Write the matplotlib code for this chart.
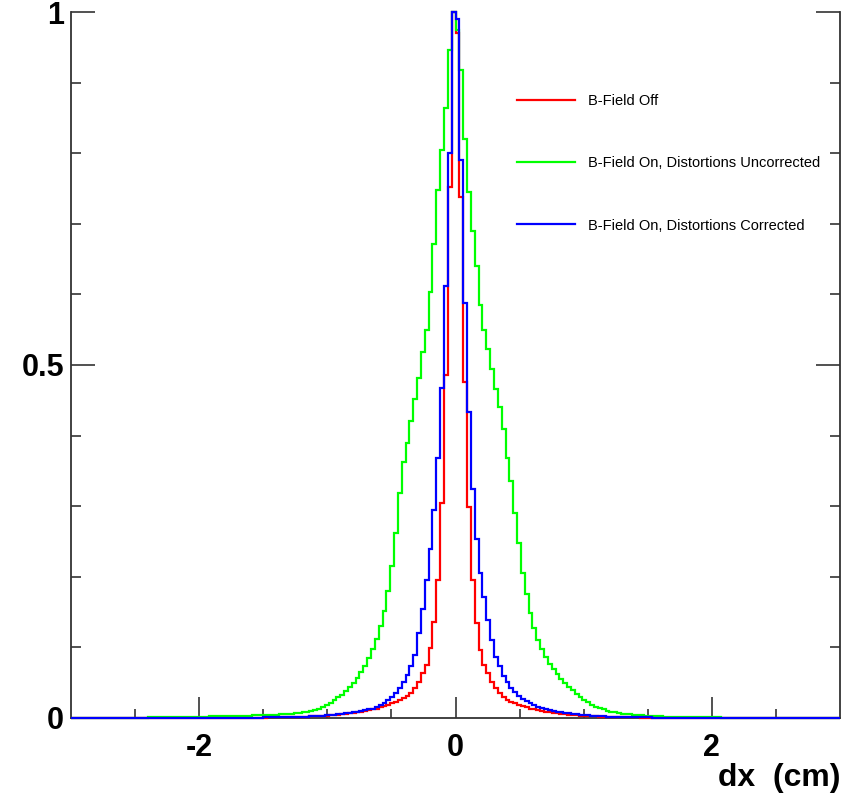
import numpy as np
import matplotlib.pyplot as plt

# bin contents, bin width 0.03 cm
# each half goes outward from dx = 0
green_right = [0.975, 0.918, 0.820, 0.745, 0.690, 0.640, 0.585, 0.550, 0.522, 0.495,
               0.466, 0.440, 0.410, 0.368, 0.335, 0.290, 0.248, 0.205, 0.175, 0.148,
               0.127, 0.110, 0.097, 0.086, 0.077, 0.069, 0.062, 0.055, 0.049, 0.044,
               0.039, 0.034, 0.030, 0.026, 0.022, 0.019, 0.016, 0.014, 0.012, 0.010,
               0.009, 0.008, 0.007, 0.006, 0.0055, 0.005, 0.0045, 0.004, 0.0036, 0.0032,
               0.0029, 0.0026, 0.0024, 0.0022, 0.002, 0.0018, 0.0016, 0.0015, 0.0014, 0.0013,
               0.0012, 0.0011, 0.001, 0.0009, 0.0009, 0.0008, 0.0008, 0.0007, 0.0007, 0.0006,
               0.0006, 0.0005, 0.0005, 0.0005, 0.0004, 0.0004, 0.0004, 0.0003, 0.0003, 0.0003,
               0.0003, 0.0002, 0.0002, 0.0002, 0.0002, 0.0002, 0.0002, 0.0001, 0.0001, 0.0001,
               0.0001, 0.0001, 0.0001, 0.0001, 0.0001, 0.0001, 0.0001, 0.0001, 0.0001, 0.0001]
green_left = [1.000, 0.946, 0.864, 0.805, 0.748, 0.672, 0.604, 0.550, 0.519, 0.482,
              0.452, 0.420, 0.389, 0.363, 0.318, 0.262, 0.215, 0.180, 0.152, 0.130,
              0.112, 0.097, 0.085, 0.074, 0.065, 0.057, 0.050, 0.044, 0.038, 0.033,
              0.029, 0.025, 0.021, 0.018, 0.015, 0.013, 0.011, 0.0095, 0.0085, 0.0078,
              0.0072, 0.0067, 0.0062, 0.0058, 0.0055, 0.0052, 0.0049, 0.0046, 0.0044, 0.0042,
              0.0040, 0.0038, 0.0036, 0.0034, 0.0032, 0.0030, 0.0029, 0.0028, 0.0026, 0.0025,
              0.0024, 0.0023, 0.0022, 0.0021, 0.0020, 0.0019, 0.0018, 0.0017, 0.0016, 0.0015,
              0.0014, 0.0013, 0.0012, 0.0011, 0.0010, 0.0009, 0.0009, 0.0008, 0.0007, 0.0007,
              0.0006, 0.0006, 0.0005, 0.0005, 0.0004, 0.0004, 0.0004, 0.0003, 0.0003, 0.0003,
              0.0002, 0.0002, 0.0002, 0.0002, 0.0002, 0.0001, 0.0001, 0.0001, 0.0001, 0.0001]

blue_right = [0.990, 0.790, 0.588, 0.434, 0.325, 0.254, 0.205, 0.172, 0.139, 0.110,
              0.087, 0.073, 0.060, 0.051, 0.043, 0.037, 0.031, 0.027, 0.024, 0.021,
              0.018, 0.016, 0.014, 0.013, 0.011, 0.010, 0.009, 0.008, 0.007, 0.0065,
              0.0060, 0.0052, 0.0046, 0.0040, 0.0036, 0.0032, 0.0028, 0.0025, 0.0022, 0.0020,
              0.0018, 0.0016, 0.0014, 0.0013, 0.0012, 0.0011, 0.0010, 0.0009, 0.0008, 0.0007,
              0.0007, 0.0006, 0.0006, 0.0005, 0.0005, 0.0004, 0.0004, 0.0004, 0.0003, 0.0003,
              0.0003, 0.0003, 0.0002, 0.0002, 0.0002, 0.0002, 0.0002, 0.0002, 0.0001, 0.0001,
              0.0001, 0.0001, 0.0001, 0.0001, 0.0001, 0.0001, 0.0001, 0.0001, 0.0001, 0.0001,
              0.0001, 0.0001, 0.0001, 0.0001, 0.0001, 0.0001, 0.0001, 0.0001, 0.0001, 0.0001,
              0.0001, 0.0001, 0.0001, 0.0001, 0.0001, 0.0001, 0.0001, 0.0001, 0.0001, 0.0001]
blue_left = [1.000, 0.800, 0.612, 0.467, 0.368, 0.294, 0.240, 0.195, 0.155, 0.120,
             0.089, 0.073, 0.061, 0.051, 0.042, 0.035, 0.029, 0.025, 0.021, 0.018,
             0.015, 0.013, 0.012, 0.011, 0.0098, 0.0088, 0.0080, 0.0072, 0.0064, 0.0056,
             0.0050, 0.0045, 0.0040, 0.0036, 0.0032, 0.0028, 0.0025, 0.0022, 0.0020, 0.0018,
             0.0016, 0.0014, 0.0013, 0.0012, 0.0011, 0.0010, 0.0009, 0.0008, 0.0007, 0.0007,
             0.0006, 0.0006, 0.0005, 0.0005, 0.0004, 0.0004, 0.0004, 0.0003, 0.0003, 0.0003,
             0.0003, 0.0002, 0.0002, 0.0002, 0.0002, 0.0002, 0.0002, 0.0001, 0.0001, 0.0001,
             0.0001, 0.0001, 0.0001, 0.0001, 0.0001, 0.0001, 0.0001, 0.0001, 0.0001, 0.0001,
             0.0001, 0.0001, 0.0001, 0.0001, 0.0001, 0.0001, 0.0001, 0.0001, 0.0001, 0.0001,
             0.0001, 0.0001, 0.0001, 0.0001, 0.0001, 0.0001, 0.0001, 0.0001, 0.0001, 0.0001]

red_right = [0.970, 0.738, 0.476, 0.299, 0.195, 0.134, 0.096, 0.075, 0.063, 0.051,
             0.042, 0.035, 0.030, 0.026, 0.023, 0.021, 0.019, 0.017, 0.015, 0.013,
             0.012, 0.011, 0.010, 0.009, 0.0082, 0.0074, 0.0066, 0.0060, 0.0054, 0.0048,
             0.0043, 0.0038, 0.0034, 0.0030, 0.0027, 0.0024, 0.0021, 0.0019, 0.0017, 0.0015,
             0.0014, 0.0012, 0.0011, 0.0010, 0.0009, 0.0008, 0.0007, 0.0007, 0.0006, 0.0006,
             0.0005, 0.0005, 0.0004, 0.0004, 0.0004, 0.0003, 0.0003, 0.0003, 0.0003, 0.0002,
             0.0002, 0.0002, 0.0002, 0.0002, 0.0001, 0.0001, 0.0001, 0.0001, 0.0001, 0.0001,
             0.0001, 0.0001, 0.0001, 0.0001, 0.0001, 0.0001, 0.0001, 0.0001, 0.0001, 0.0001,
             0.0001, 0.0001, 0.0001, 0.0001, 0.0001, 0.0001, 0.0001, 0.0001, 0.0001, 0.0001,
             0.0001, 0.0001, 0.0001, 0.0001, 0.0001, 0.0001, 0.0001, 0.0001, 0.0001, 0.0001]
red_left = [1.000, 0.752, 0.486, 0.304, 0.195, 0.136, 0.099, 0.075, 0.063, 0.051,
            0.042, 0.035, 0.031, 0.028, 0.025, 0.023, 0.021, 0.019, 0.017, 0.015,
            0.013, 0.012, 0.011, 0.0098, 0.0088, 0.0080, 0.0072, 0.0065, 0.0058, 0.0052,
            0.0047, 0.0042, 0.0038, 0.0034, 0.0030, 0.0027, 0.0024, 0.0021, 0.0019, 0.0017,
            0.0015, 0.0013, 0.0012, 0.0011, 0.0010, 0.0009, 0.0008, 0.0007, 0.0007, 0.0006,
            0.0006, 0.0005, 0.0005, 0.0004, 0.0004, 0.0004, 0.0003, 0.0003, 0.0003, 0.0002,
            0.0002, 0.0002, 0.0002, 0.0002, 0.0001, 0.0001, 0.0001, 0.0001, 0.0001, 0.0001,
            0.0001, 0.0001, 0.0001, 0.0001, 0.0001, 0.0001, 0.0001, 0.0001, 0.0001, 0.0001,
            0.0001, 0.0001, 0.0001, 0.0001, 0.0001, 0.0001, 0.0001, 0.0001, 0.0001, 0.0001,
            0.0001, 0.0001, 0.0001, 0.0001, 0.0001, 0.0001, 0.0001, 0.0001, 0.0001, 0.0001]

labels = ["B-Field Off",
          "B-Field On, Distortions Uncorrected",
          "B-Field On, Distortions Corrected"]


def whole(left, right):
    return np.array(left[::-1] + right)


red = whole(red_left, red_right)
green = whole(green_left, green_right)
blue = whole(blue_left, blue_right)
edges = np.linspace(-3, 3, len(red) + 1)

plt.rcParams['font.family'] = ['Liberation Sans', 'DejaVu Sans']
plt.rcParams['axes.unicode_minus'] = False

fig = plt.figure(figsize=(8.59, 7.95), dpi=100)
ax = fig.add_axes([0.0827, 0.0969, 0.8953, 0.888])

# drawn above the frame so the zero level sits on the x axis like in ROOT
ax.stairs(red, edges, color='#ff0000', lw=1.6, label=labels[0], zorder=3, clip_on=False)
ax.stairs(green, edges, color='#00ff00', lw=1.6, label=labels[1], zorder=3, clip_on=False)
ax.stairs(blue, edges, color='#0000ff', lw=1.6, label=labels[2], zorder=3, clip_on=False)

ax.set_xlim(-3, 3)
ax.set_ylim(0, 1)
ax.set_xticks([-2, 0, 2])
ax.set_xticks(np.arange(-2.5, 3, 0.5), minor=True)
ax.set_yticks([0, 0.5, 1])
ax.set_yticklabels(['0', '0.5', '1'])
ax.set_yticks(np.arange(0.1, 1.0, 0.1), minor=True)

ax.spines['top'].set_visible(False)
for s in ['left', 'bottom', 'right']:
    ax.spines[s].set_color('#333333')
    ax.spines[s].set_linewidth(1.3)

ax.tick_params(axis='both', which='both', direction='in', color='#333333', width=1.2)
ax.tick_params(axis='y', which='both', left=True, right=True)
ax.tick_params(axis='y', which='major', length=17, pad=5, labelsize=22)
ax.tick_params(axis='y', which='minor', length=7)
ax.tick_params(axis='x', which='major', length=15, pad=11, labelsize=22)
ax.tick_params(axis='x', which='minor', length=6.5)
for lab in ax.get_xticklabels() + ax.get_yticklabels():
    lab.set_fontweight('bold')

ax.set_xlabel('dx  (cm)', fontsize=23, fontweight='bold', loc='right')
ax.xaxis.set_label_coords(1.0, -0.064)

ax.legend(loc='upper left', bbox_to_anchor=(0.563, 0.902), frameon=False,
          fontsize=10.5, handlelength=4.0, handletextpad=0.85, labelspacing=3.3)

fig.savefig('out.png', dpi=100)
